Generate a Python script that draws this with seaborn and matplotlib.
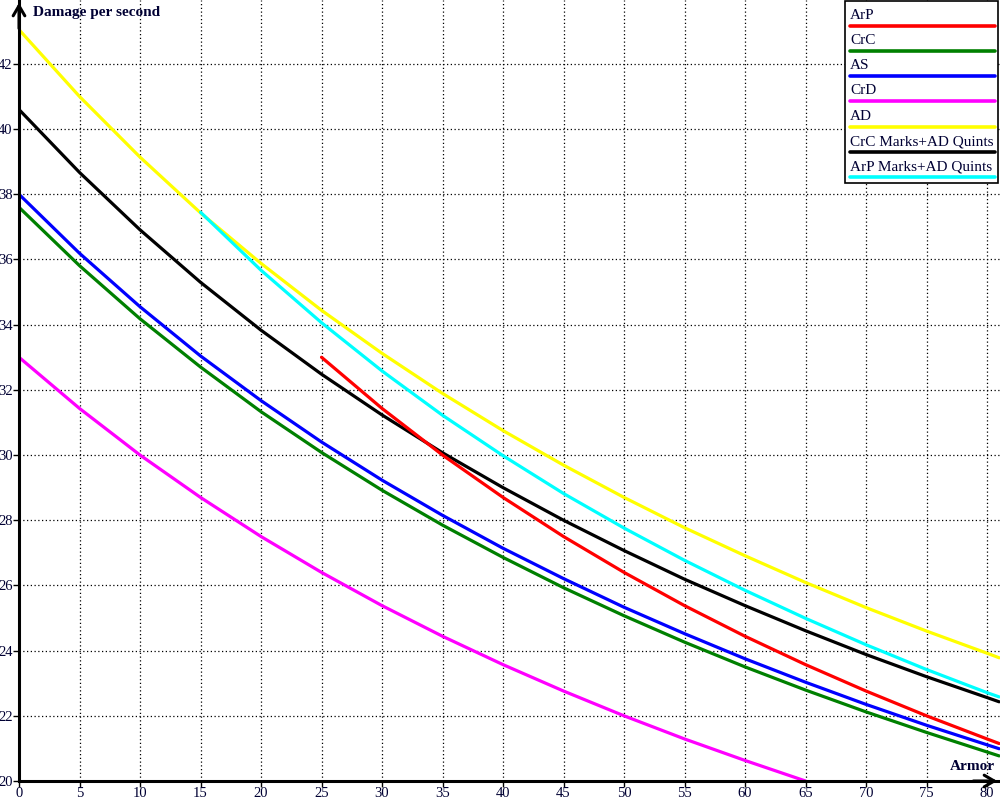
import numpy as np
import pandas as pd
import matplotlib
matplotlib.use("Agg")
import matplotlib.pyplot as plt
import seaborn as sns
from matplotlib.patches import Rectangle

# =======================
# Data
# =======================
armor = [0, 5, 10, 15, 20, 25, 30, 35, 40, 45, 50, 55, 60, 65, 70, 75, 80, 81]

ad = [43.05, 41.00, 39.14, 37.43, 35.88, 34.44, 33.12, 31.89, 30.75, 29.69,
      28.70, 27.77, 26.91, 26.09, 25.32, 24.60, 23.92, 23.78]
crc_marks_ad = [40.60, 38.67, 36.91, 35.30, 33.83, 32.48, 31.23, 30.07, 29.00, 28.00,
                27.07, 26.19, 25.38, 24.61, 23.88, 23.20, 22.56, 22.43]
as_ = [38.00, 36.19, 34.55, 33.04, 31.67, 30.40, 29.23, 28.15, 27.14, 26.21,
       25.33, 24.52, 23.75, 23.03, 22.35, 21.71, 21.11, 20.99]
crc = [37.60, 35.81, 34.18, 32.70, 31.33, 30.08, 28.92, 27.85, 26.86, 25.93,
       25.07, 24.26, 23.50, 22.79, 22.12, 21.49, 20.89, 20.77]

crd_armor = [0, 5, 10, 15, 20, 25, 30, 35, 40, 45, 50, 55, 60, 65]
crd = [33.00, 31.43, 30.00, 28.70, 27.50, 26.40, 25.38, 24.44, 23.57, 22.76,
       22.00, 21.29, 20.63, 20.00]

arp_armor = [25, 30, 35, 40, 45, 50, 55, 60, 65, 70, 75, 80, 81]
arp = [33.00, 31.43, 30.00, 28.70, 27.50, 26.40, 25.38, 24.44, 23.57, 22.76,
       22.00, 21.29, 21.15]

arp_marks_armor = [15, 20, 25, 30, 35, 40, 45, 50, 55, 60, 65, 70, 75, 80, 81]
arp_marks_ad = [37.45, 35.67, 34.06, 32.58, 31.22, 29.98, 28.82, 27.76, 26.77,
                25.85, 24.99, 24.18, 23.42, 22.71, 22.58]

series = [
    ("ArP", arp_armor, arp, "#ff0000"),
    ("CrC", armor, crc, "#008000"),
    ("AS", armor, as_, "#0000ff"),
    ("CrD", crd_armor, crd, "#ff00ff"),
    ("AD", armor, ad, "#ffff00"),
    ("CrC Marks+AD Quints", armor, crc_marks_ad, "#000000"),
    ("ArP Marks+AD Quints", arp_marks_armor, arp_marks_ad, "#00ffff"),
]

# =======================
# Style
# =======================
sns.set_theme(style="white")
plt.rcParams['font.family'] = ['Liberation Serif', 'DejaVu Serif']

fig = plt.figure(figsize=(10, 8), dpi=100)
ax = fig.add_axes([0.019, 0.02375, 0.981, 0.97625])

# draw order: lower curves first, so the overlap looks like the reference
draw_order = ["CrD", "CrC", "AS", "AD", "ArP Marks+AD Quints", "CrC Marks+AD Quints", "ArP"]
lookup = {s[0]: s for s in series}
for name in draw_order:
    _, xs, ys, col = lookup[name]
    df = pd.DataFrame({"Armor": xs, "DPS": ys})
    sns.lineplot(data=df, x="Armor", y="DPS", color=col, linewidth=2.3, ax=ax,
                 legend=False, zorder=3)

ax.set_xlim(0, 81.07)
ax.set_ylim(20, 43.96)
ax.set_xticks(np.arange(0, 81, 5))
ax.set_yticks(np.arange(20, 43, 2))
ax.set_xlabel("")
ax.set_ylabel("")

ax.grid(True, color="black", linestyle=(0, (1, 2)), linewidth=0.9)
ax.set_axisbelow(True)

for side in ["top", "right"]:
    ax.spines[side].set_visible(False)
for side in ["left", "bottom"]:
    ax.spines[side].set_color("black")
    ax.spines[side].set_linewidth(2.2)
    ax.spines[side].set_zorder(5)

ax.tick_params(axis="both", which="both", direction="out", length=4, width=1,
               color="black", labelsize=10.5, labelcolor="#000033", pad=0.5,
               left=True, bottom=True)

# axis arrows
ax.annotate("", xy=(0, 1.0), xytext=(0, 0.96), xycoords="axes fraction",
            arrowprops=dict(arrowstyle="->,head_length=0.6,head_width=0.35",
                            color="black", lw=2.2), annotation_clip=False)
ax.annotate("", xy=(1.0, 0), xytext=(0.97, 0), xycoords="axes fraction",
            arrowprops=dict(arrowstyle="->,head_length=0.6,head_width=0.35",
                            color="black", lw=2.2), annotation_clip=False)

# axis titles
fig.text(0.033, 0.992, "Damage per second", ha="left", va="top",
         fontsize=11, fontweight="bold", color="#000033")
fig.text(0.995, 0.034, "Armor", ha="right", va="bottom",
         fontsize=11, fontweight="bold", color="#000033")

# =======================
# Legend (text above a coloured line)
# =======================
box_l, box_r, box_t, box_b = 0.845, 0.998, 0.999, 0.771
fig.patches.append(Rectangle((box_l, box_b), box_r - box_l, box_t - box_b,
                             transform=fig.transFigure, facecolor="white",
                             edgecolor="black", linewidth=1.2, zorder=10))
row_h = 0.0316
for i, (name, _, _, col) in enumerate(series):
    y_line = 0.968 - i * row_h
    fig.text(0.850, y_line + 0.005, name, ha="left", va="bottom",
             fontsize=11, color="#000033", zorder=11)
    fig.add_artist(plt.Line2D([0.850, 0.995], [y_line, y_line],
                              transform=fig.transFigure, color=col,
                              linewidth=2.6, zorder=11))

fig.savefig("out.png", dpi=100)
